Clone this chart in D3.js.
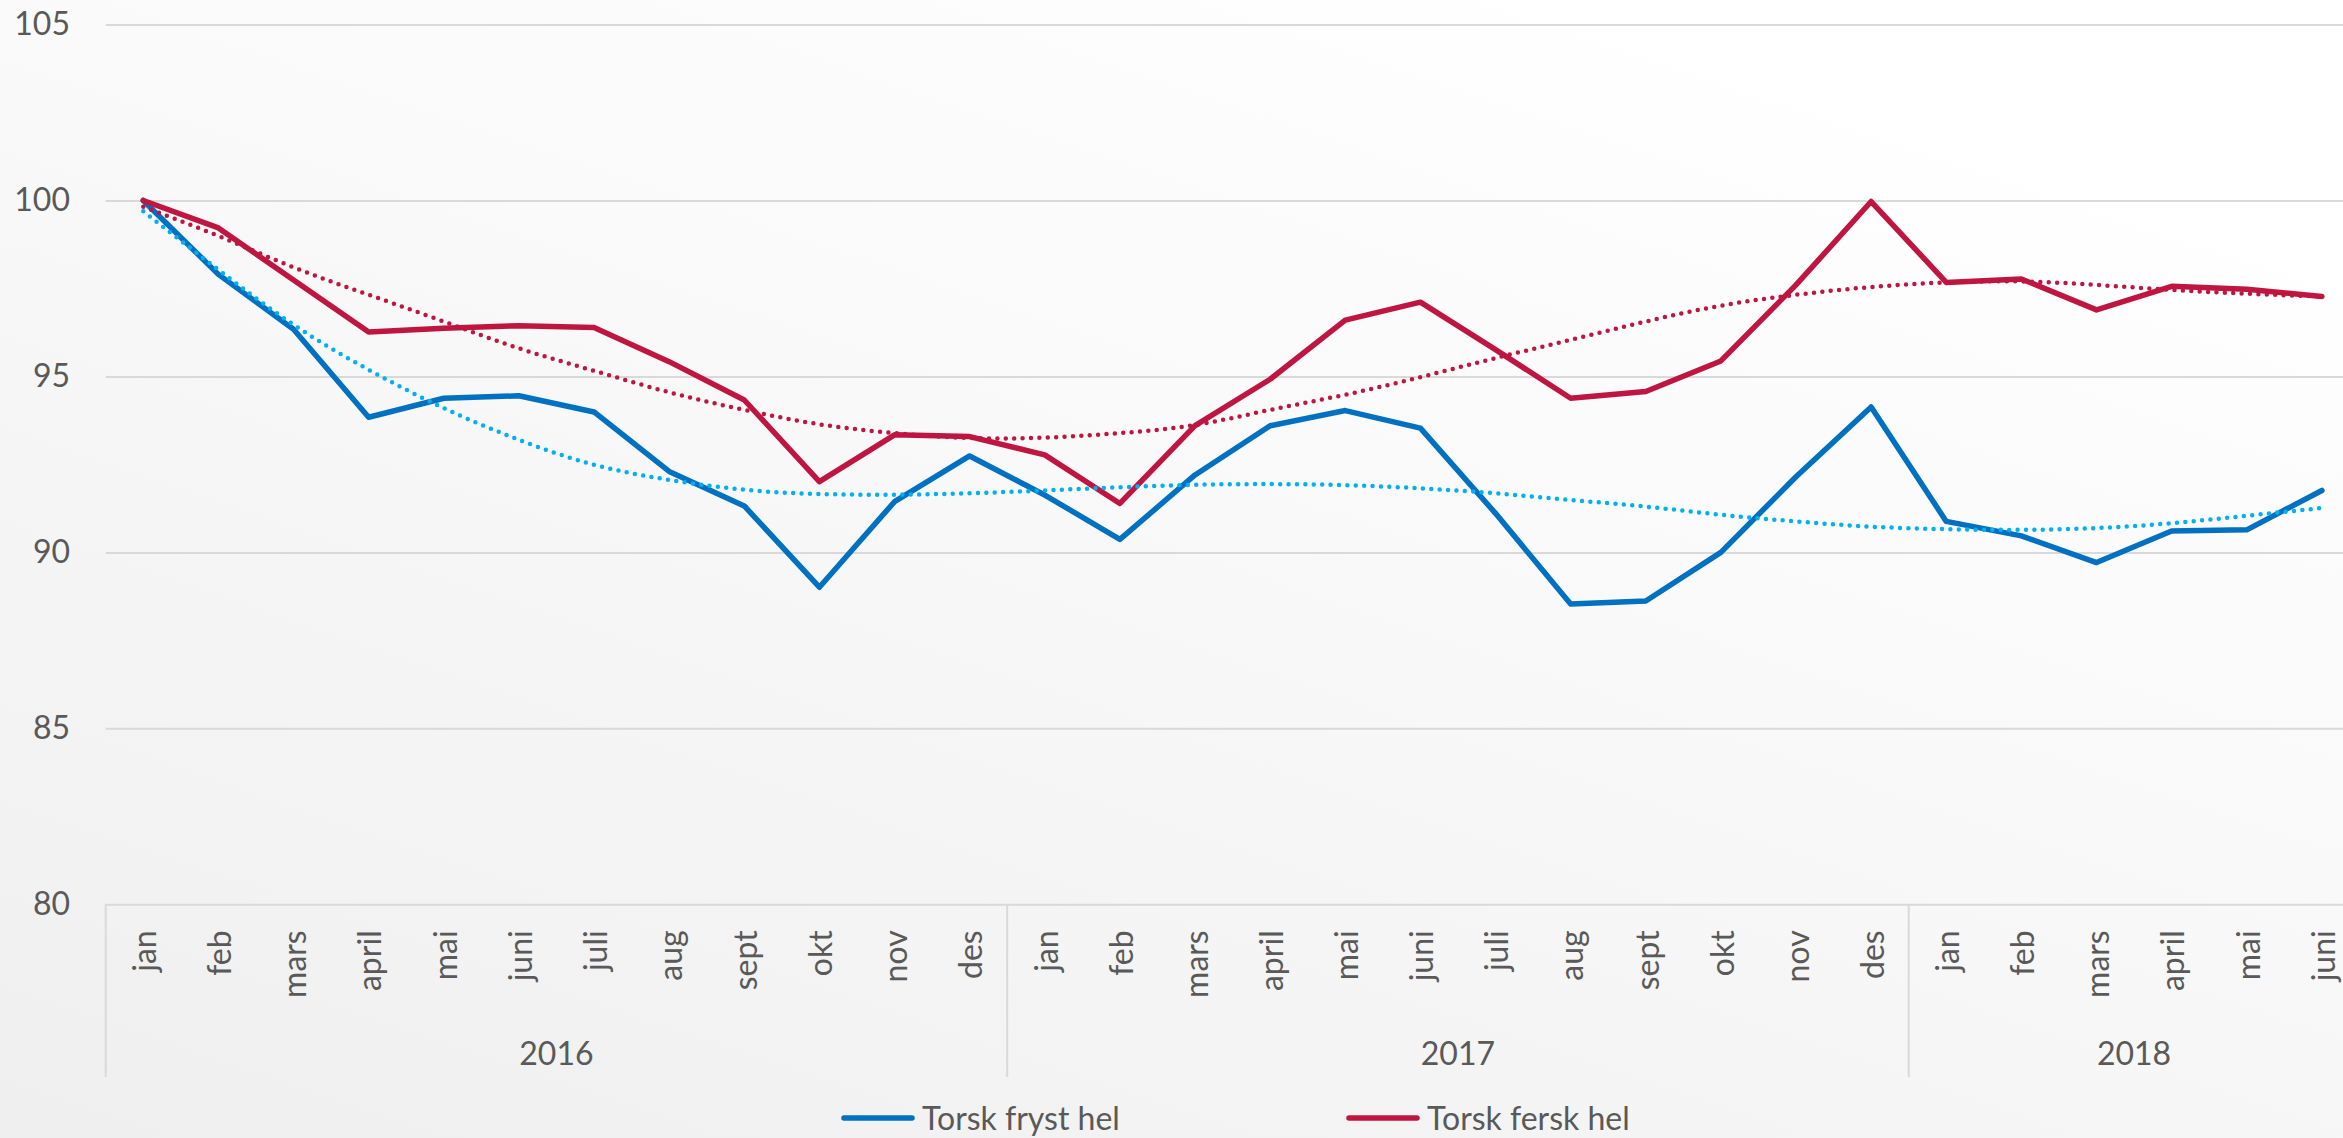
<!DOCTYPE html>
<html>
<head>
<meta charset="utf-8">
<script src="https://cdn.jsdelivr.net/npm/d3@7"></script>
<style>
  html, body { margin: 0; padding: 0; background: #fff; }
  svg { display: block; font-family: Lato, "Open Sans", sans-serif; }
</style>
</head>
<body>
<div id="screen"></div>
<script>
//category labels, one per month
var months = ["jan","feb","mars","april","mai","juni","juli","aug","sept","okt","nov","des",
              "jan","feb","mars","april","mai","juni","juli","aug","sept","okt","nov","des",
              "jan","feb","mars","april","mai","juni"];

//years and how many months each one covers
var years = ["2016", "2017", "2018"];
var yearCounts = [12, 12, 6];

//series names
var seriesNames = ["Torsk fryst hel", "Torsk fersk hel"];

//index values
var fryst = [100, 97.9, 96.34, 93.84, 94.38, 94.45, 93.99, 92.3, 91.32, 89.01, 91.44, 92.74,
             91.63, 90.37, 92.2, 93.6, 94.03, 93.53, 91.11, 88.53, 88.62, 90.0, 92.15, 94.13,
             90.88, 90.47, 89.71, 90.61, 90.64, 91.76];
var fersk = [100, 99.22, 97.74, 96.26, 96.37, 96.44, 96.39, 95.42, 94.33, 92.01, 93.34, 93.29,
             92.77, 91.39, 93.6, 94.92, 96.6, 97.11, 95.76, 94.38, 94.57, 95.44, 97.6, 99.97,
             97.67, 97.77, 96.89, 97.56, 97.48, 97.27];

//trend lines (dotted), read at every month
var frystTrend = [99.69, 98.03, 96.47, 95.19, 94.1, 93.2, 92.49, 92.06, 91.78, 91.66, 91.64, 91.68,
                  91.76, 91.85, 91.92, 91.94, 91.91, 91.82, 91.68, 91.49, 91.3, 91.07, 90.88, 90.73,
                  90.66, 90.64, 90.69, 90.83, 91.04, 91.26];
var ferskTrend = [99.82, 98.99, 98.1, 97.32, 96.56, 95.8, 95.16, 94.55, 94.05, 93.64, 93.39, 93.25,
                  93.26, 93.39, 93.62, 94.05, 94.48, 94.98, 95.52, 96.04, 96.56, 97.01, 97.32, 97.54,
                  97.67, 97.7, 97.6, 97.46, 97.35, 97.27];

//y ticks
var yTicks = [80, 85, 90, 95, 100, 105];

var W = 2343, H = 1138;
var LEFT = 105.7, BAND = 75.125, TOP = 24.5, BOTTOM = 904.3;
var TEXT = "#595959", GRID = "#d9d9d9";
var BLUE = "#0070c0", RED = "#be1640", LIGHTBLUE = "#00b0f0";

var svg = d3.select("#screen")
    .append("svg")
    .attr("width", W)
    .attr("height", H);

//background gradient, grey at bottom left, white towards top right
var grad = svg.append("defs").append("linearGradient")
    .attr("id", "bg")
    .attr("x1", 0).attr("y1", 1).attr("x2", 0.7).attr("y2", 0);
grad.append("stop").attr("offset", 0).attr("stop-color", "#efefef");
grad.append("stop").attr("offset", 1).attr("stop-color", "#ffffff");

svg.append("rect")
    .attr("width", "100%")
    .attr("height", "100%")
    .attr("fill", "url(#bg)");

var x = d3.scaleBand()
    .domain(d3.range(months.length))
    .range([LEFT, LEFT + BAND * months.length]);

var y = d3.scaleLinear()
    .domain([80, 105])
    .range([BOTTOM, TOP]);

//gridlines
svg.append("g")
    .attr("transform", "translate(" + LEFT + ",0)")
    .call(d3.axisLeft(y).tickValues(yTicks).tickSize(-(BAND * months.length)).tickFormat(""))
    .call(g => g.select(".domain").remove())
    .call(g => g.selectAll("line").attr("stroke", GRID).attr("stroke-width", 2));

//y labels
svg.append("g")
    .attr("transform", "translate(70,0)")
    .call(d3.axisLeft(y).tickValues(yTicks).tickSize(0).tickPadding(0))
    .call(g => g.select(".domain").remove())
    .call(g => g.selectAll("text")
        .attr("fill", TEXT)
        .style("font-size", "32px")
        .style("font-family", "Lato, sans-serif"));

//month labels
svg.append("g")
    .attr("transform", "translate(0," + BOTTOM + ")")
    .call(d3.axisBottom(x).tickSize(0).tickFormat(i => months[i]))
    .call(g => g.select(".domain").remove())
    .call(g => g.selectAll("text")
        .attr("fill", TEXT)
        .attr("x", -26)
        .attr("y", 0)
        .attr("dy", "0.4em")
        .attr("transform", "rotate(-90)")
        .style("text-anchor", "end")
        .style("font-size", "32px")
        .style("font-family", "Lato, sans-serif"));

//year groups
var starts = [0];
yearCounts.forEach((c, i) => starts.push(starts[i] + c));

svg.selectAll(".divider")
    .data(starts)
    .enter()
    .append("line")
    .attr("class", "divider")
    .attr("x1", d => LEFT + d * BAND)
    .attr("x2", d => LEFT + d * BAND)
    .attr("y1", BOTTOM)
    .attr("y2", 1077)
    .attr("stroke", GRID)
    .attr("stroke-width", 2);

svg.selectAll(".year")
    .data(years)
    .enter()
    .append("text")
    .attr("class", "year")
    .attr("x", (d, i) => LEFT + (starts[i] + yearCounts[i] / 2) * BAND)
    .attr("y", 1065)
    .attr("text-anchor", "middle")
    .attr("fill", TEXT)
    .style("font-size", "32px")
    .text(d => d);

//lines
var cx = i => x(i) + x.bandwidth() / 2;

var line = d3.line()
    .x((d, i) => cx(i))
    .y(d => y(d));

var trend = d3.line()
    .x((d, i) => cx(i))
    .y(d => y(d))
    .curve(d3.curveNatural);

svg.append("path")
    .datum(fryst)
    .attr("d", line)
    .attr("fill", "none")
    .attr("stroke", BLUE)
    .attr("stroke-width", 5.5)
    .attr("stroke-linejoin", "round")
    .attr("stroke-linecap", "round");

svg.append("path")
    .datum(fersk)
    .attr("d", line)
    .attr("fill", "none")
    .attr("stroke", RED)
    .attr("stroke-width", 5.5)
    .attr("stroke-linejoin", "round")
    .attr("stroke-linecap", "round");

svg.append("path")
    .datum(frystTrend)
    .attr("d", trend)
    .attr("fill", "none")
    .attr("stroke", LIGHTBLUE)
    .attr("stroke-width", 4.5)
    .attr("stroke-dasharray", "0 8.4")
    .attr("stroke-linecap", "round");

svg.append("path")
    .datum(ferskTrend)
    .attr("d", trend)
    .attr("fill", "none")
    .attr("stroke", RED)
    .attr("stroke-width", 4.5)
    .attr("stroke-dasharray", "0 8.4")
    .attr("stroke-linecap", "round");

//legend
var legendX = [844, 1349];
var legendColors = [BLUE, RED];
var leg = svg.selectAll(".legend")
    .data(seriesNames)
    .enter()
    .append("g")
    .attr("class", "legend")
    .attr("transform", (d, i) => "translate(" + legendX[i] + ",1118)");

leg.append("line")
    .attr("x1", 0).attr("x2", 68)
    .attr("y1", 0).attr("y2", 0)
    .attr("stroke", (d, i) => legendColors[i])
    .attr("stroke-width", 5.5)
    .attr("stroke-linecap", "round");

leg.append("text")
    .attr("x", 78)
    .attr("y", 12)
    .attr("fill", TEXT)
    .style("font-size", "32px")
    .text(d => d);
</script>
</body>
</html>
